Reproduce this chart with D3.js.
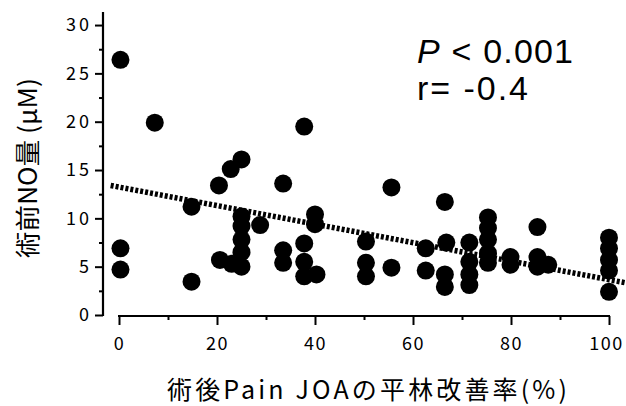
<!DOCTYPE html>
<html>
<head>
<meta charset="utf-8">
<script src="https://cdn.jsdelivr.net/npm/d3@7"></script>
<style>
  body { margin: 0; background: #fff; }
  svg { display: block; }
  .tick text { font-family: "Noto Sans CJK JP", sans-serif; }
</style>
</head>
<body>
<svg id="chart" width="626" height="406"></svg>
<script>
// improvement rate (%) vs pre-op NO (uM)
const improvement = [0.3, 7.3, 37.8, 0.3, 0.3, 14.8, 14.8, 20.4, 22.8, 25.0,
  20.6, 23.0, 25.0, 25.0, 25.0, 25.0, 25.0, 28.8, 33.5, 33.5,
  33.5, 37.8, 37.8, 37.8, 40.0, 40.0, 40.3, 50.4, 50.4, 50.4,
  55.6, 55.6, 62.6, 62.6, 66.5, 66.8, 66.5, 66.5, 71.5, 71.5,
  71.5, 71.5, 75.3, 75.3, 75.3, 75.3, 75.3, 79.9, 79.9, 85.4,
  85.4, 85.4, 87.6, 100, 100, 100, 100, 100]
const noLevel = [26.4, 19.9, 19.5, 6.9, 4.7, 11.2, 3.45, 13.4, 15.1, 16.1,
  5.7, 5.3, 10.2, 9.2, 7.8, 6.5, 5.0, 9.3, 13.6, 6.7,
  5.4, 7.4, 5.5, 4.0, 10.4, 9.4, 4.2, 7.6, 5.4, 4.0,
  13.2, 4.9, 6.9, 4.6, 11.7, 7.5, 4.2, 2.9, 7.5, 5.5,
  4.2, 3.1, 10.1, 9.0, 7.8, 6.4, 5.4, 6.0, 5.2, 9.1,
  6.0, 5.0, 5.2, 8.0, 6.9, 5.7, 4.6, 2.4]

// regression line ends
const fitX = [-1.7, 104]
const fitY = [13.4, 3.27]

const xTicks = [0, 20, 40, 60, 80, 100]
const xMinor = [10, 30, 50, 70, 90]
const yTicks = [0, 5, 10, 15, 20, 25, 30]
const yMinor = [2.5, 7.5, 12.5, 17.5, 22.5, 27.5]

const svg = d3.select("#chart")

const x = d3.scaleLinear().domain([0, 100]).range([119, 609])
const y = d3.scaleLinear().domain([0, 31.35]).range([315, 12])

// y axis
const yAxis = svg.append("g").attr("transform", "translate(103,0)")
yAxis.call(d3.axisLeft(y).tickValues(yTicks).tickSize(8).tickPadding(6).tickFormat(d3.format("d")))
yAxis.append("g").call(d3.axisLeft(y).tickValues(yMinor).tickSize(4).tickFormat(""))
yAxis.selectAll(".domain").remove()
yAxis.append("line").attr("y1", 12).attr("y2", 316)
  .attr("stroke", "#000").attr("stroke-width", 2.2)
yAxis.selectAll(".tick line").attr("stroke-width", 2)
yAxis.selectAll(".tick text")
  .attr("font-size", 18).attr("fill", "#000")
  .style("letter-spacing", "3px").attr("dx", 3)

// x axis
const xAxis = svg.append("g").attr("transform", "translate(0,316)")
xAxis.call(d3.axisBottom(x).tickValues(xTicks).tickSize(9).tickPadding(12).tickFormat(d3.format("d")))
xAxis.append("g").call(d3.axisBottom(x).tickValues(xMinor).tickSize(4).tickFormat(""))
xAxis.selectAll(".domain").remove()
xAxis.append("line").attr("x1", x(0) - 1).attr("x2", x(100) + 1)
  .attr("stroke", "#000").attr("stroke-width", 2.2)
xAxis.selectAll(".tick line").attr("stroke-width", 2)
xAxis.selectAll(".tick text")
  .attr("font-size", 18).attr("fill", "#000")
  .style("letter-spacing", "1.5px")
xAxis.selectAll(".tick text").filter((d) => d === 100).attr("dx", -3)

// points
svg.append("g")
  .selectAll("circle")
  .data(improvement.map((v, i) => [v, noLevel[i]]))
  .join("circle")
  .attr("cx", (d) => x(d[0]))
  .attr("cy", (d) => y(d[1]))
  .attr("r", 9)
  .attr("fill", "#000")

// fit line
svg.append("line")
  .attr("x1", x(fitX[0])).attr("y1", y(fitY[0]))
  .attr("x2", x(fitX[1])).attr("y2", y(fitY[1]))
  .attr("stroke", "#000")
  .attr("stroke-width", 5.5)
  .attr("stroke-dasharray", "3,2")

// stats text
const stats = svg.append("g")
  .attr("font-family", "'Liberation Sans', Arial, sans-serif")
  .attr("font-size", 34)
  .attr("fill", "#000")
const pLine = stats.append("text").attr("x", 417).attr("y", 63)
  .attr("textLength", 156).attr("lengthAdjust", "spacing")
pLine.append("tspan").attr("font-style", "italic").text("P")
pLine.append("tspan").text(" < 0.001")
stats.append("text").attr("x", 417).attr("y", 100)
  .attr("textLength", 111).attr("lengthAdjust", "spacing")
  .text("r= -0.4")

// axis titles
svg.append("text")
  .attr("transform", "translate(37,168) rotate(-90)")
  .attr("text-anchor", "middle")
  .attr("font-family", "'Noto Sans CJK JP', sans-serif")
  .attr("font-size", 25)
  .attr("textLength", 180).attr("lengthAdjust", "spacingAndGlyphs")
  .text("術前NO量 (μM)")

svg.append("text")
  .attr("x", 367).attr("y", 399)
  .attr("text-anchor", "middle")
  .attr("font-family", "'Noto Sans CJK JP', sans-serif")
  .attr("font-size", 25)
  .attr("textLength", 400).attr("lengthAdjust", "spacing")
  .text("術後Pain JOAの平林改善率(%)")
</script>
</body>
</html>
